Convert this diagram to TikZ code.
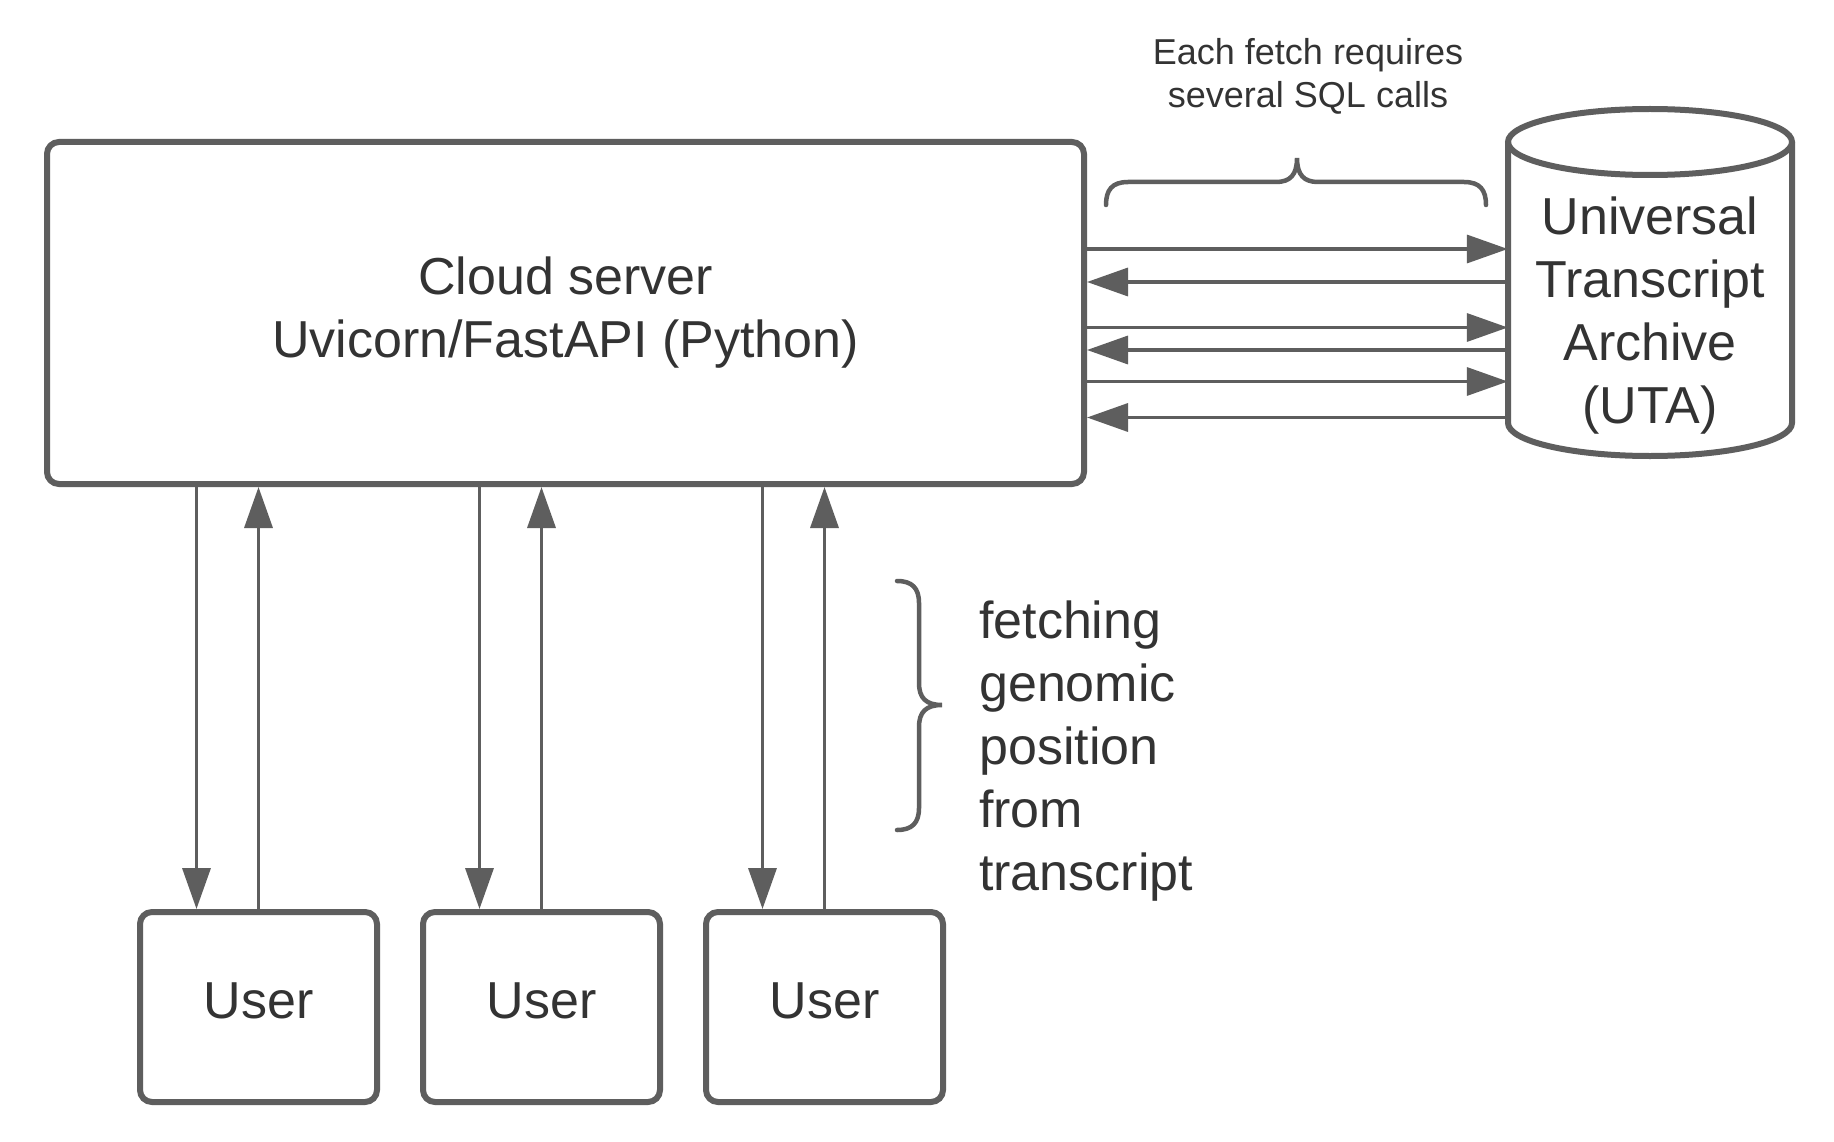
\documentclass[tikz,border=0pt]{standalone}
\usepackage{fontspec}
\setmainfont{Liberation Sans}
\usetikzlibrary{arrows.meta}
\definecolor{strk}{HTML}{5E5E5E}
\definecolor{txt}{HTML}{333333}
\tikzset{
  boxstyle/.style={draw=strk, line width=6pt, rounded corners=12pt, inner sep=0pt, text=txt, align=center,
    font=\fontsize{52}{63}\selectfont},
  arr/.style={draw=strk, line width=3.5pt, -{Triangle[length=41pt,width=28pt]}},
  bracestyle/.style={draw=strk, line width=4.5pt, line cap=round},
  bigtext/.style={text=txt, font=\fontsize{52}{63}\selectfont, inner sep=0pt},
  smalltext/.style={text=txt, font=\fontsize{36}{43}\selectfont, inner sep=0pt, align=center}
}
\begin{document}
\begin{tikzpicture}[x=1pt,y=-1pt]
\useasboundingbox[fill=white] (0,0) rectangle (1834,1142);
% server
\node[boxstyle, minimum width=1037pt, minimum height=342pt] (server) at (565.5,313) {Cloud server\\Uvicorn/FastAPI (Python)};
% cylinder
\draw[strk, line width=6pt] (1508,142) -- (1508,423) arc[start angle=180, end angle=0, x radius=142, y radius=33] -- (1792,142);
\draw[strk, line width=6pt] (1650,142) ellipse [x radius=142, y radius=33];
\node[bigtext, align=center, minimum width=284pt, minimum height=280pt] (uta) at (1650,316) {Universal\\Transcript\\Archive\\(UTA)};
% users
\node[boxstyle, minimum width=237pt, minimum height=190pt] (user1) at (258.5,1007) {\raisebox{12pt}{User}};
\node[boxstyle, minimum width=237pt, minimum height=190pt] (user2) at (541.5,1007) {\raisebox{12pt}{User}};
\node[boxstyle, minimum width=237pt, minimum height=190pt] (user3) at (824.5,1007) {\raisebox{12pt}{User}};
% horizontal arrows
\coordinate (h1) at (0,249);
\coordinate (h2) at (0,282);
\coordinate (h3) at (0,327.5);
\coordinate (h4) at (0,350);
\coordinate (h5) at (0,381.5);
\coordinate (h6) at (0,417.5);
\draw[arr] (server.east |- h1) -- (uta.west |- h1);
\draw[arr] (uta.west |- h2) -- (server.east |- h2);
\draw[arr] (server.east |- h3) -- (uta.west |- h3);
\draw[arr] (uta.west |- h4) -- (server.east |- h4);
\draw[arr] (server.east |- h5) -- (uta.west |- h5);
\draw[arr] (uta.west |- h6) -- (server.east |- h6);
% vertical arrows
\foreach \u in {user1,user2,user3}{
  \coordinate (\u d) at ([xshift=-62pt]\u.north);
  \draw[arr] (server.south -| \u d) -- (\u d);
  \draw[arr] (\u.north) -- (server.south -| \u.north);
}
% top brace and label
\draw[bracestyle] (1106,205) .. controls (1106,190) and (1112,182) .. (1128,182) -- (1276,182)
  .. controls (1290,182) and (1297,175) .. (1297,158)
  .. controls (1297,175) and (1304,182) .. (1318,182) -- (1464,182)
  .. controls (1480,182) and (1486,190) .. (1486,205);
\node[smalltext] (note1) at (1308,76) {Each fetch requires\\several SQL calls};
% right brace and label
\draw[bracestyle] (897,581) .. controls (912,581) and (919,588) .. (919,603) -- (919,683)
  .. controls (919,698) and (926,705) .. (942,705)
  .. controls (926,705) and (919,712) .. (919,727) -- (919,808)
  .. controls (919,823) and (912,830) .. (897,830);
\node[bigtext, align=left, anchor=west] (note2) at (979,751) {fetching\\genomic\\position\\from\\transcript};
\end{tikzpicture}
\end{document}
